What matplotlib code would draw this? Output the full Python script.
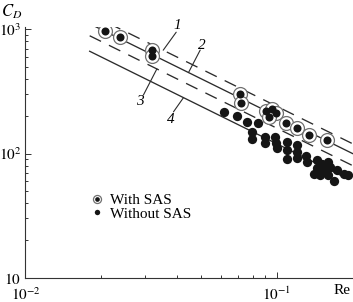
import numpy as np
import matplotlib
matplotlib.use('Agg')
import matplotlib.pyplot as plt
from matplotlib.ticker import FixedLocator, NullFormatter

plt.rcParams['font.family'] = ['Liberation Serif', 'DejaVu Serif']
plt.rcParams['mathtext.fontset'] = 'stix'

# drag coefficient vs Reynolds number
re_sas = [0.0207, 0.0238, 0.0318, 0.0318, 0.0711, 0.0720, 0.0908, 0.0960,
          0.0995, 0.0933, 0.109, 0.120, 0.134, 0.158]
cd_sas = [969, 871, 681, 610, 301, 256, 220, 228, 212, 197, 177, 161, 142, 128]

re_nosas = [0.0614, 0.0694, 0.0761, 0.0840, 0.0796, 0.0796, 0.0900, 0.0900,
            0.0986, 0.0995, 0.100, 0.110, 0.110, 0.110, 0.120, 0.120, 0.120,
            0.130, 0.132, 0.145, 0.151, 0.159, 0.145, 0.154, 0.163, 0.140,
            0.149, 0.159, 0.174, 0.185, 0.191, 0.169]
cd_nosas = [216, 202, 180, 176, 150, 132, 137, 121, 136, 121, 110, 124, 107,
            91, 117, 103, 92, 96, 85, 89, 83, 86, 76, 74, 78, 69, 67, 67, 74,
            69, 67, 60]

# reference lines 1-4 (end points)
line_names = ['1', '2', '3', '4']
line_re = [[0.018, 0.2], [0.018, 0.2], [0.018, 0.2], [0.018, 0.19]]
line_cd = [[1333, 120], [1111, 100], [889, 80], [667, 63]]
line_dashed = [True, False, True, False]
# where the leader of each label touches its line
label_anchor = [(0.0353, 680), (0.0445, 449), (0.0333, 480), (0.0425, 282)]

xticks = [0.01, 0.1]
xticklabels = ['$10^{-2}$', '$10^{-1}$']
yticks = [10, 100, 1000]
yticklabels = ['$10$', '$10^2$', '$10^3$']


def main():
    fig = plt.figure(figsize=(3.53, 3.02), dpi=100)
    ax = fig.add_axes([0.0722, 0.0805, 0.9266, 0.8291])
    ax.set_xscale('log')
    ax.set_yscale('log')
    ax.set_xlim(0.01, 0.2)
    ax.set_ylim(10, 1040)

    lc = '#2b2b2b'
    for r, c, d in zip(line_re, line_cd, line_dashed):
        ls = (0, (9.6, 6.7)) if d else '-'
        ax.plot(r, c, color=lc, lw=0.95, ls=ls, zorder=2)

    # leaders and labels
    lead_start = [(13, 18), (11.7, 22.5), (-13.4, -26), (-10, -14.2)]
    text_pos = [(14.5, 25), (13.4, 27.5), (-16.7, -32.8), (-12.3, -21.5)]
    for name, xy, ls_, tp in zip(line_names, label_anchor, lead_start, text_pos):
        ax.annotate('', xy=xy, xytext=ls_, textcoords='offset pixels',
                    arrowprops=dict(arrowstyle='-', lw=0.8, color=lc,
                                    shrinkA=0, shrinkB=0))
        ax.annotate(name, xy=xy, xytext=tp, textcoords='offset pixels',
                    ha='center', va='center', fontsize=11, style='italic',
                    annotation_clip=False)

    ax.plot(re_nosas, cd_nosas, 'o', ms=6.7, mfc='#151515', mec='#151515',
            mew=0, zorder=3)
    ring, = ax.plot(re_sas, cd_sas, 'o', ms=10, mfc='white', mec='#707070',
                    mew=0.9, zorder=4)
    dot, = ax.plot(re_sas, cd_sas, 'o', ms=5.8, mfc='#151515', mec='#151515',
                   mew=0, zorder=5)
    nodot, = ax.plot([], [], 'o', ms=6.7, mfc='#151515', mec='#151515', mew=0)

    ax.legend([(ring, dot), nodot], ['With SAS', 'Without SAS'],
              loc='upper left', bbox_to_anchor=(0.194, 0.337), frameon=False,
              borderpad=0, borderaxespad=0, handlelength=1.0,
              handletextpad=0.37, labelspacing=0.0, markerscale=0.58,
              fontsize=11)

    for s in ['top', 'right']:
        ax.spines[s].set_visible(False)
    for s in ['left', 'bottom']:
        ax.spines[s].set_linewidth(0.8)
        ax.spines[s].set_color('#333333')

    ax.xaxis.set_major_locator(FixedLocator(xticks))
    ax.set_xticklabels(xticklabels)
    ax.yaxis.set_major_locator(FixedLocator(yticks))
    ax.set_yticklabels(yticklabels)
    ax.xaxis.set_minor_formatter(NullFormatter())
    ax.yaxis.set_minor_formatter(NullFormatter())
    ax.tick_params(which='both', direction='in', width=0.7, color='#333333',
                   labelsize=11)
    ax.tick_params(which='major', length=4.3, pad=3)
    ax.tick_params(axis='x', which='major', pad=6)
    ax.tick_params(which='minor', length=2.5)
    # the bottom y label sits just above the x labels, as in the figure
    ax.get_yticklabels()[0].set_verticalalignment('center_baseline')

    ax.text(-0.041, 1.061, '$C_D$', transform=ax.transAxes, ha='center',
            va='center', fontsize=12)
    ax.text(0.968, -0.053, 'Re', transform=ax.transAxes, ha='center',
            va='center', fontsize=11)

    fig.savefig('out.png', dpi=100)


if __name__ == '__main__':
    main()
